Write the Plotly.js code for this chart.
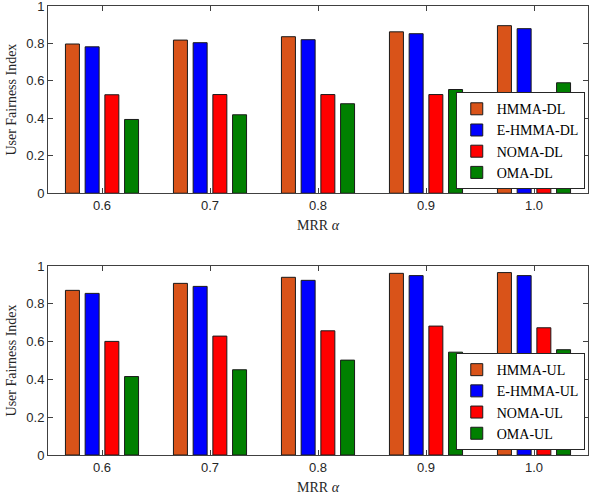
<!DOCTYPE html>
<html>
<head>
<meta charset="utf-8">
<script src="https://cdn.plot.ly/plotly-3.0.1.min.js"></script>
<style>
  body { margin: 0; background: #fff; }
  #chart { width: 590px; height: 498px; }
</style>
</head>
<body>
<div id="chart"></div>
<script>
'use strict';

// MRR alpha values on the x axis
const alphaLabels = ['0.6', '0.7', '0.8', '0.9', '1.0'];
const alphaPos = [1, 2, 3, 4, 5];

// downlink fairness
const hmmaDL = [0.797, 0.818, 0.836, 0.862, 0.895];
const ehmmaDL = [0.782, 0.804, 0.820, 0.852, 0.879];
const nomaDL = [0.526, 0.527, 0.527, 0.527, 0.522];
const omaDL = [0.394, 0.419, 0.478, 0.554, 0.590];

// uplink fairness
const hmmaUL = [0.871, 0.908, 0.940, 0.961, 0.965];
const ehmmaUL = [0.855, 0.892, 0.924, 0.949, 0.949];
const nomaUL = [0.601, 0.629, 0.657, 0.682, 0.673];
const omaUL = [0.415, 0.451, 0.502, 0.544, 0.557];

const colors = ['#D95319', '#0000FF', '#FF0000', '#008000'];

function bars(name, vals, color, xa, ya, legend) {
    return {
        type: 'bar',
        name: name,
        x: alphaPos,
        y: vals,
        xaxis: xa,
        yaxis: ya,
        legend: legend,
        marker: { color: color, line: { color: '#1a1a1a', width: 1 } },
        hoverinfo: 'skip'
    };
}

const traces = [
    bars('HMMA-DL', hmmaDL, colors[0], 'x', 'y', 'legend'),
    bars('E-HMMA-DL', ehmmaDL, colors[1], 'x', 'y', 'legend'),
    bars('NOMA-DL', nomaDL, colors[2], 'x', 'y', 'legend'),
    bars('OMA-DL', omaDL, colors[3], 'x', 'y', 'legend'),
    bars('HMMA-UL', hmmaUL, colors[0], 'x2', 'y2', 'legend2'),
    bars('E-HMMA-UL', ehmmaUL, colors[1], 'x2', 'y2', 'legend2'),
    bars('NOMA-UL', nomaUL, colors[2], 'x2', 'y2', 'legend2'),
    bars('OMA-UL', omaUL, colors[3], 'x2', 'y2', 'legend2')
];

const tickFont = { family: 'Liberation Sans', size: 13, color: '#262626' };
const titleFont = { family: 'Liberation Serif', size: 14, color: '#262626' };

function xAxis(anchor) {
    return {
        anchor: anchor,
        range: [0.5, 5.5],
        tickvals: alphaPos,
        ticktext: alphaLabels,
        ticks: 'inside',
        ticklen: 5,
        tickcolor: '#404040',
        showline: true,
        mirror: 'ticks',
        linecolor: '#404040',
        linewidth: 1,
        showgrid: false,
        zeroline: false,
        tickfont: tickFont,
        title: { text: 'MRR <i>α</i>', font: titleFont, standoff: 8 }
    };
}

function yAxis(anchor, domain) {
    return {
        anchor: anchor,
        domain: domain,
        range: [0, 1],
        dtick: 0.2,
        ticks: 'inside',
        ticklen: 5,
        tickcolor: '#404040',
        showline: true,
        mirror: 'ticks',
        linecolor: '#404040',
        linewidth: 1,
        showgrid: false,
        zeroline: false,
        ticklabeloverflow: 'allow',
        tickfont: tickFont,
        title: { text: 'User Fairness Index', font: titleFont, standoff: 6 }
    };
}

function legendBox(y) {
    return {
        x: 0.994,
        y: y,
        xanchor: 'right',
        yanchor: 'bottom',
        bgcolor: '#fff',
        bordercolor: '#262626',
        borderwidth: 1,
        font: { family: 'Liberation Serif', size: 14, color: '#000' },
        tracegroupgap: 0,
        itemwidth: 30
    };
}

const layout = {
    width: 590,
    height: 498,
    margin: { l: 48, r: 2, t: 6, b: 43 },
    paper_bgcolor: '#fff',
    plot_bgcolor: '#fff',
    showlegend: true,
    barmode: 'group',
    bargap: 0.27,
    bargroupgap: 0.29,
    xaxis: xAxis('y'),
    yaxis: yAxis('x', [0.583, 1]),
    xaxis2: xAxis('y2'),
    yaxis2: yAxis('x2', [0, 0.421]),
    legend: legendBox(0.592),
    legend2: legendBox(0.011)
};

Plotly.newPlot('chart', traces, layout, { displayModeBar: false, staticPlot: true });
</script>
</body>
</html>
